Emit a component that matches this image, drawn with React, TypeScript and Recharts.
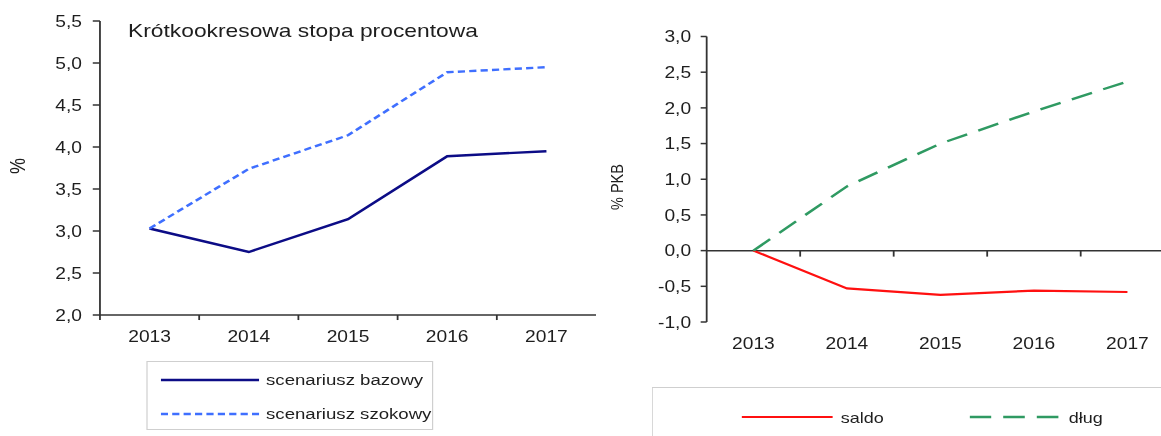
import React from "react";
import { LineChart, Line, XAxis, YAxis, ReferenceLine } from "recharts";

// data
const years = [2013, 2014, 2015, 2016, 2017];
const bazowy = [3.03, 2.75, 3.14, 3.89, 3.95];
const szokowy = [3.03, 3.74, 4.14, 4.89, 4.95];
const saldo = [0, -0.53, -0.62, -0.56, -0.58];
const dlug = [0, 0.9, 1.5, 1.95, 2.37];

const leftTicks = [2, 2.5, 3, 3.5, 4, 4.5, 5, 5.5];
const rightTicks = [-1, -0.5, 0, 0.5, 1, 1.5, 2, 2.5, 3];
const leftBounds = [2012.5, 2013.5, 2014.5, 2015.5, 2016.5];
const rightBounds = [2013.5, 2014.5, 2015.5, 2016.5];

const leftSeries = [
  { key: "bazowy", name: "scenariusz bazowy", color: "#0c0c86", dash: undefined, width: 2.4 },
  { key: "szokowy", name: "scenariusz szokowy", color: "#3f6fff", dash: "6 3.5", width: 2.4 },
];
const rightSeries = [
  { key: "saldo", name: "saldo", color: "#ff1010", dash: undefined, width: 2.2 },
  { key: "dlug", name: "dług", color: "#2f9a62", dash: "18 10", width: 2.4 },
];

const leftData = years.map((y, i) => ({ year: y, bazowy: bazowy[i], szokowy: szokowy[i] }));
const rightData = years.map((y, i) => ({ year: y, saldo: saldo[i], dlug: dlug[i] }));

const FONT = "'Liberation Sans', Arial, sans-serif";
const AX = "#333";
const fmt = (v: number) => v.toFixed(1).replace(".", ",");
const tickStyle = { fontSize: 16, fill: "#1e1e1e", fontFamily: FONT };

function LegendLine({ color, dash, width, len }: { color: string; dash?: string; width: number; len: number }) {
  return (
    <svg width={len} height={6} style={{ display: "block" }}>
      <line x1={0} y1={3} x2={len} y2={3} stroke={color} strokeWidth={width} strokeDasharray={dash} />
    </svg>
  );
}

function VLabel({ text, x, y, size }: { text: string; x: number; y: number; size: number }) {
  return (
    <div
      style={{
        position: "absolute",
        left: x,
        top: y,
        transform: "translate(-50%, -50%) rotate(-90deg)",
        fontSize: size,
        color: "#1e1e1e",
        whiteSpace: "nowrap",
        lineHeight: 1,
      }}
    >
      {text}
    </div>
  );
}

export default function App() {
  return (
    <div
      style={{
        position: "fixed",
        left: 0,
        top: 0,
        width: 1161,
        height: 436,
        overflow: "hidden",
        background: "#fff",
      }}
    >
      {/* the reference is stretched horizontally, so draw narrower and scale */}
      <div
        style={{
          position: "absolute",
          left: 0,
          top: 0,
          width: 968,
          height: 436,
          transform: "scaleX(1.2)",
          transformOrigin: "0 0",
          fontFamily: FONT,
        }}
      >
        {/* left chart */}
        <div style={{ position: "absolute", left: 0, top: 0 }}>
          <LineChart width={500} height={345} data={leftData} margin={{ top: 21, right: 3.3, left: 0, bottom: 0 }}>
            <XAxis
              dataKey="year"
              type="number"
              domain={[2012.5, 2017.5]}
              ticks={years}
              tickLine={false}
              tickMargin={10}
              height={30}
              axisLine={{ stroke: AX, strokeWidth: 1.5 }}
              tick={tickStyle}
            />
            <YAxis
              domain={[2, 5.5]}
              ticks={leftTicks}
              width={83.3}
              tickFormatter={fmt}
              tickSize={6}
              tickMargin={9}
              tickLine={{ stroke: AX, strokeWidth: 1.5 }}
              axisLine={{ stroke: AX, strokeWidth: 1.5 }}
              tick={tickStyle}
              interval={0}
            />
            {leftBounds.map((b) => (
              <ReferenceLine
                key={b}
                ifOverflow="visible"
                segment={[{ x: b, y: 2 }, { x: b, y: 1.94 }]}
                stroke={AX}
                strokeWidth={1.5}
              />
            ))}
            {leftSeries.map((s) => (
              <Line
                key={s.key}
                dataKey={s.key}
                name={s.name}
                type="linear"
                stroke={s.color}
                strokeWidth={s.width}
                strokeDasharray={s.dash}
                dot={false}
                isAnimationActive={false}
              />
            ))}
          </LineChart>
        </div>
        <div
          style={{
            position: "absolute",
            left: 106.7,
            top: 21,
            fontSize: 19,
            lineHeight: 1,
            color: "#1e1e1e",
            whiteSpace: "nowrap",
          }}
        >
          Krótkookresowa stopa procentowa
        </div>
        <VLabel text="%" x={15} y={166} size={18} />

        {/* left legend */}
        <div
          style={{
            position: "absolute",
            left: 121.7,
            top: 361,
            width: 238.9,
            height: 69,
            border: "1px solid #cfcfcf",
            boxSizing: "border-box",
          }}
        >
          {leftSeries.map((s, i) => (
            <div
              key={s.key}
              style={{
                position: "absolute",
                left: 11,
                top: i === 0 ? 18 - 9 : 52 - 9,
                height: 18,
                display: "flex",
                alignItems: "center",
                whiteSpace: "nowrap",
              }}
            >
              <LegendLine color={s.color} dash={s.dash} width={s.width} len={82} />
              <span style={{ marginLeft: 6, fontSize: 15.5, color: "#1e1e1e" }}>{s.name}</span>
            </div>
          ))}
        </div>

        {/* right chart */}
        <div style={{ position: "absolute", left: 500, top: 0 }}>
          <LineChart width={478.5} height={352} data={rightData} margin={{ top: 36.5, right: 0, left: 0, bottom: 0 }}>
            <XAxis
              dataKey="year"
              type="number"
              domain={[2012.5, 2017.5]}
              ticks={years}
              tickLine={false}
              axisLine={false}
              tickMargin={10}
              height={30}
              tick={tickStyle}
            />
            <YAxis
              domain={[-1, 3]}
              ticks={rightTicks}
              width={88.9}
              tickFormatter={fmt}
              tickSize={5}
              tickMargin={8}
              tickLine={{ stroke: AX, strokeWidth: 1.5 }}
              axisLine={{ stroke: AX, strokeWidth: 1.5 }}
              tick={tickStyle}
              interval={0}
            />
            <ReferenceLine y={0} stroke={AX} strokeWidth={1.5} />
            {rightBounds.map((b) => (
              <ReferenceLine
                key={b}
                ifOverflow="visible"
                segment={[{ x: b, y: 0 }, { x: b, y: -0.084 }]}
                stroke={AX}
                strokeWidth={1.5}
              />
            ))}
            {rightSeries.map((s) => (
              <Line
                key={s.key}
                dataKey={s.key}
                name={s.name}
                type="linear"
                stroke={s.color}
                strokeWidth={s.width}
                strokeDasharray={s.dash}
                dot={false}
                isAnimationActive={false}
              />
            ))}
          </LineChart>
        </div>
        <VLabel text="% PKB" x={514.2} y={187} size={14.5} />

        {/* right legend */}
        <div
          style={{
            position: "absolute",
            left: 543.3,
            top: 387,
            width: 500,
            height: 100,
            borderTop: "1px solid #cfcfcf",
            borderLeft: "1px solid #cfcfcf",
          }}
        >
          {rightSeries.map((s, i) => (
            <div
              key={s.key}
              style={{
                position: "absolute",
                left: i === 0 ? 73.4 : 263.4,
                top: 29 - 9,
                height: 18,
                display: "flex",
                alignItems: "center",
                whiteSpace: "nowrap",
              }}
            >
              <LegendLine color={s.color} dash={s.dash} width={s.width} len={76} />
              <span style={{ marginLeft: 7, fontSize: 15, color: "#1e1e1e" }}>{s.name}</span>
            </div>
          ))}
        </div>
      </div>
    </div>
  );
}
